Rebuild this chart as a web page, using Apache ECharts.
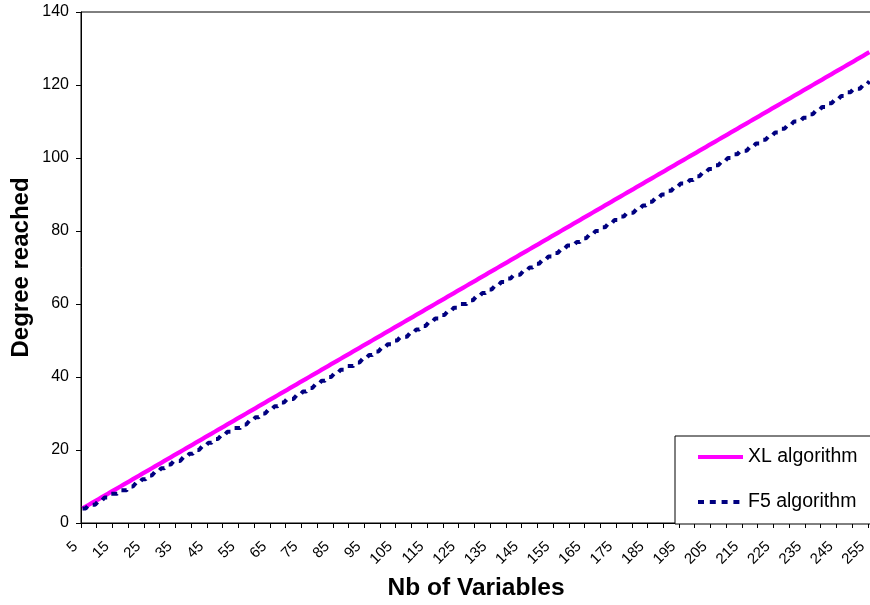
<!DOCTYPE html>
<html>
<head>
<meta charset="utf-8">
<script src="https://cdn.jsdelivr.net/npm/echarts@6/dist/echarts.min.js"></script>
<style>
html,body{margin:0;padding:0;background:#fff;}
#chart{width:870px;height:605px;}
</style>
</head>
<body>
<div id="chart"></div>
<script>
var categories = [
  '5','6','7','8','9','10','11','12','13','14',
  '15','16','17','18','19','20','21','22','23','24',
  '25','26','27','28','29','30','31','32','33','34',
  '35','36','37','38','39','40','41','42','43','44',
  '45','46','47','48','49','50','51','52','53','54',
  '55','56','57','58','59','60','61','62','63','64',
  '65','66','67','68','69','70','71','72','73','74',
  '75','76','77','78','79','80','81','82','83','84',
  '85','86','87','88','89','90','91','92','93','94',
  '95','96','97','98','99','100','101','102','103','104',
  '105','106','107','108','109','110','111','112','113','114',
  '115','116','117','118','119','120','121','122','123','124',
  '125','126','127','128','129','130','131','132','133','134',
  '135','136','137','138','139','140','141','142','143','144',
  '145','146','147','148','149','150','151','152','153','154',
  '155','156','157','158','159','160','161','162','163','164',
  '165','166','167','168','169','170','171','172','173','174',
  '175','176','177','178','179','180','181','182','183','184',
  '185','186','187','188','189','190','191','192','193','194',
  '195','196','197','198','199','200','201','202','203','204',
  '205','206','207','208','209','210','211','212','213','214',
  '215','216','217','218','219','220','221','222','223','224',
  '225','226','227','228','229','230','231','232','233','234',
  '235','236','237','238','239','240','241','242','243','244',
  '245','246','247','248','249','250','251','252','253','254',
  '255'
];

var xlValues = [
  4,4.5,5,5.5,6,6.5,7,7.5,8,8.5,
  9,9.5,10,10.5,11,11.5,12,12.5,13,13.5,
  14,14.5,15,15.5,16,16.5,17,17.5,18,18.5,
  19,19.5,20,20.5,21,21.5,22,22.5,23,23.5,
  24,24.5,25,25.5,26,26.5,27,27.5,28,28.5,
  29,29.5,30,30.5,31,31.5,32,32.5,33,33.5,
  34,34.5,35,35.5,36,36.5,37,37.5,38,38.5,
  39,39.5,40,40.5,41,41.5,42,42.5,43,43.5,
  44,44.5,45,45.5,46,46.5,47,47.5,48,48.5,
  49,49.5,50,50.5,51,51.5,52,52.5,53,53.5,
  54,54.5,55,55.5,56,56.5,57,57.5,58,58.5,
  59,59.5,60,60.5,61,61.5,62,62.5,63,63.5,
  64,64.5,65,65.5,66,66.5,67,67.5,68,68.5,
  69,69.5,70,70.5,71,71.5,72,72.5,73,73.5,
  74,74.5,75,75.5,76,76.5,77,77.5,78,78.5,
  79,79.5,80,80.5,81,81.5,82,82.5,83,83.5,
  84,84.5,85,85.5,86,86.5,87,87.5,88,88.5,
  89,89.5,90,90.5,91,91.5,92,92.5,93,93.5,
  94,94.5,95,95.5,96,96.5,97,97.5,98,98.5,
  99,99.5,100,100.5,101,101.5,102,102.5,103,103.5,
  104,104.5,105,105.5,106,106.5,107,107.5,108,108.5,
  109,109.5,110,110.5,111,111.5,112,112.5,113,113.5,
  114,114.5,115,115.5,116,116.5,117,117.5,118,118.5,
  119,119.5,120,120.5,121,121.5,122,122.5,123,123.5,
  124,124.5,125,125.5,126,126.5,127,127.5,128,128.5,
  129
];

var f5Values = [
  4,4,5,5,5,6,6,7,7,8,
  8,8,9,9,9,10,10,11,11,12,
  12,13,13,14,14,15,15,16,16,17,
  17,17,18,18,19,19,20,20,21,21,
  22,22,23,23,24,24,25,25,26,26,
  26,27,27,28,28,29,29,30,30,31,
  31,32,32,33,33,34,34,34,35,35,
  36,36,37,37,38,38,39,39,40,40,
  41,41,42,42,43,43,43,44,44,45,
  45,46,46,47,47,48,48,49,49,50,
  50,51,51,51,52,52,53,53,54,54,
  55,55,56,56,57,57,58,58,59,59,
  60,60,60,61,61,62,62,63,63,64,
  64,65,65,66,66,67,67,68,68,68,
  69,69,70,70,71,71,72,72,73,73,
  74,74,75,75,76,76,76,77,77,78,
  78,79,79,80,80,81,81,82,82,83,
  83,84,84,85,85,85,86,86,87,87,
  88,88,89,89,90,90,91,91,92,92,
  93,93,93,94,94,95,95,96,96,97,
  97,98,98,99,99,100,100,101,101,102,
  102,102,103,103,104,104,105,105,106,106,
  107,107,108,108,109,109,110,110,110,111,
  111,112,112,113,113,114,114,115,115,116,
  116,117,117,118,118,119,119,119,120,120,
  121
];

var seriesNames = ['XL algorithm', 'F5 algorithm'];
var yTicks = {min: 0, max: 140, interval: 20};

var FONT = '"Liberation Sans", Arial, sans-serif';
var chart = echarts.init(document.getElementById('chart'), null, {renderer: 'canvas'});
chart.setOption({
  animation: false,
  backgroundColor: '#fff',
  grid: {
    left: 81, top: 12, right: -1, bottom: 82,
    outerBoundsMode: 'none',
    containLabel: false,
    show: true, borderColor: '#000', borderWidth: 1, backgroundColor: 'transparent'
  },
  legend: {
    data: seriesNames,
    orient: 'vertical',
    left: 675, top: 436,
    padding: [11, 40, 12, 21],
    itemGap: 25,
    itemWidth: 45,
    itemHeight: 20,
    borderColor: '#000',
    borderWidth: 1,
    borderRadius: 0,
    backgroundColor: '#fff',
    itemStyle: {opacity: 0},
    lineStyle: {width: 4},
    textStyle: {fontSize: 19.5, fontFamily: FONT, color: '#000'}
  },
  xAxis: {
    type: 'category',
    data: categories,
    boundaryGap: true,
    name: 'Nb of Variables',
    nameLocation: 'middle',
    nameGap: 53,
    nameMoveOverlap: false,
    nameTextStyle: {fontSize: 24.5, fontWeight: 'bold', fontFamily: FONT, color: '#000'},
    axisLine: {lineStyle: {color: '#000', width: 1}},
    axisTick: {show: true, interval: 4, length: 5, inside: false, lineStyle: {color: '#000'}},
    axisLabel: {interval: 9, rotate: 45, fontSize: 15, fontFamily: FONT, color: '#000', margin: 14, padding: [0, 10, 0, 0]},
    splitLine: {show: false}
  },
  yAxis: {
    type: 'value',
    min: yTicks.min, max: yTicks.max, interval: yTicks.interval,
    name: 'Degree reached',
    nameLocation: 'middle',
    nameGap: 48,
    nameMoveOverlap: false,
    nameTextStyle: {fontSize: 24, fontWeight: 'bold', fontFamily: FONT, color: '#000'},
    axisLine: {show: true, lineStyle: {color: '#000', width: 1}},
    axisTick: {show: true, length: 5, inside: false, lineStyle: {color: '#000'}},
    axisLabel: {fontSize: 16, fontFamily: FONT, color: '#000', margin: 12},
    splitLine: {show: false}
  },
  series: [
    {
      name: seriesNames[0],
      type: 'line',
      data: xlValues,
      symbol: 'none',
      lineStyle: {color: '#FF00FF', width: 4.3},
      itemStyle: {color: '#FF00FF'},
      z: 2
    },
    {
      name: seriesNames[1],
      type: 'line',
      data: f5Values,
      symbol: 'none',
      lineStyle: {color: '#000080', width: 4, type: [6, 5.8], cap: 'butt'},
      itemStyle: {color: '#000080'},
      z: 3
    }
  ]
});
</script>
</body>
</html>
